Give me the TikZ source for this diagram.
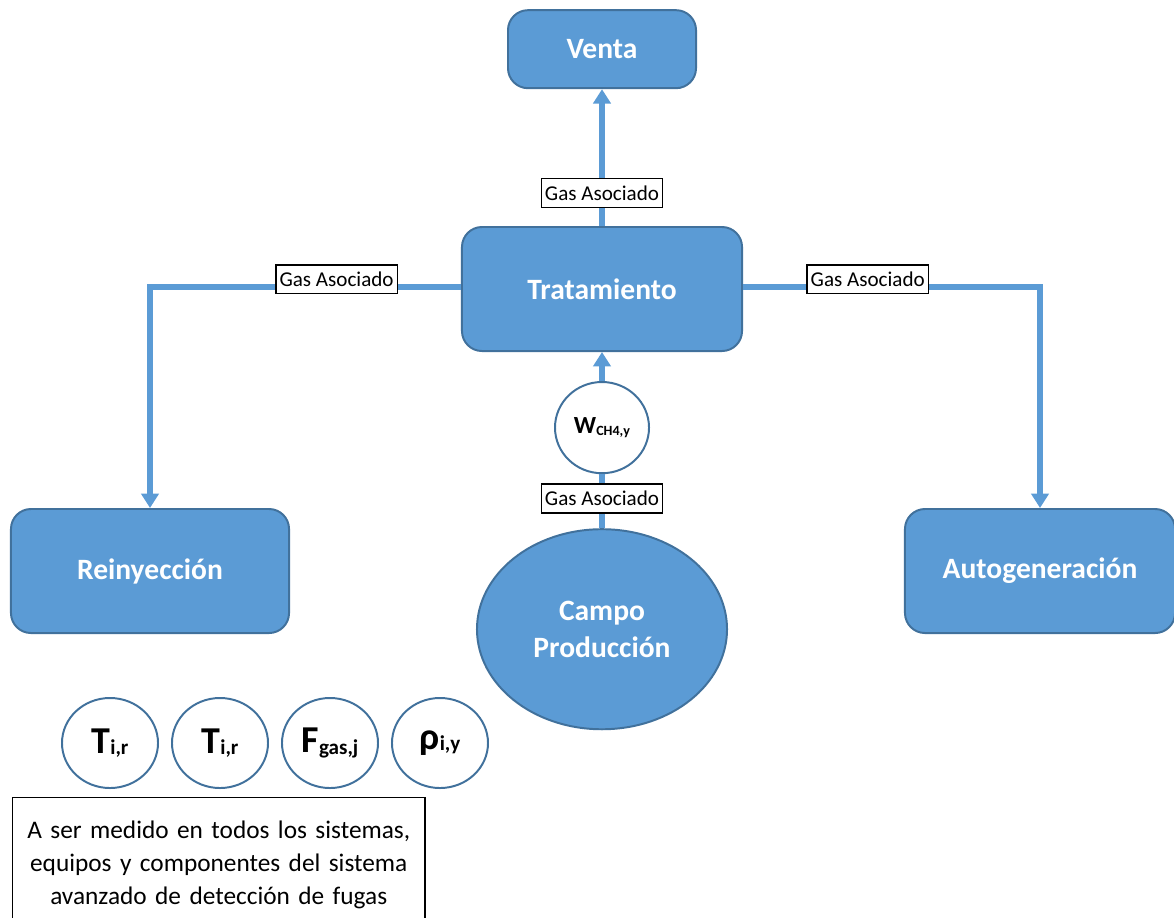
\documentclass[tikz,border=0pt]{standalone}
\usepackage{fontspec}
\setmainfont{Carlito}
\usepackage{xcolor}
\usetikzlibrary{positioning,shapes.geometric,arrows.meta}

\definecolor{boxblue}{HTML}{5B9BD5}
\definecolor{rimblue}{HTML}{41719C}

\newcommand{\meas}[2]{{\fontsize{27}{27}\selectfont #1}\raisebox{-1pt}{\fontsize{15}{15}\selectfont #2}}

\begin{document}
\begin{tikzpicture}[x=0.025cm,y=-0.025cm,>={Triangle[width=0.43cm,length=0.36cm]},
                    every node/.style={inner sep=0pt}]
  \tikzstyle{block}=[rectangle,rounded corners=0.5cm,fill=boxblue,draw=rimblue,line width=1.4pt,
                     text=white,font=\bfseries\fontsize{21}{26}\selectfont,align=center,
                     minimum height=3.1cm]
  \tikzstyle{meter}=[ellipse,fill=white,draw=rimblue,line width=1.4pt,font=\bfseries,
                     minimum width=2.4cm,minimum height=2.25cm]
  \tikzstyle{flow}=[->,draw=boxblue,line width=4pt]
  \tikzstyle{tag}=[fill=white,draw=black,line width=0.9pt,inner xsep=2.6pt,inner ysep=5pt,
                   text=black,font=\fontsize{15}{16}\selectfont]

  \useasboundingbox (0,0) rectangle (1174,917);
  \clip (0,0) rectangle (1174,917);

  \node[block,minimum width=7cm]                      (trat)  at (602,289)  {Tratamiento};
  \node[block,minimum width=4.7cm,minimum height=1.95cm] (venta) [above=3.42cm of trat] {Venta};
  \node[meter,minimum width=2.35cm,minimum height=2.28cm] (wch4) [below=0.725cm of trat]
        {{\fontsize{17.5}{17}\selectfont W}\raisebox{-2pt}{\fontsize{10}{10}\selectfont CH4,y}};
  \node[ellipse,fill=boxblue,draw=rimblue,line width=1.4pt,text=white,align=center,
        font=\bfseries\fontsize{21}{26}\selectfont,minimum width=6.25cm,minimum height=5cm]
        (campo) [below=1.35cm of wch4] {Campo\\Producción};
  \node[block,minimum width=6.95cm]                   (rein)  at (150,571)  {Reinyección};
  \node[block,minimum width=6.75cm]                   (auto)  at (1040,571) {Autogeneración};

  \node[meter]             (temp1)                   at (110,743) {\meas{T}{i,r}};
  \node[meter]             (temp2) [right=0.3cm of temp1]       {\meas{T}{i,r}};
  \node[meter]             (flowg) [right=0.3cm of temp2]       {\meas{F}{gas,j}};
  \node[meter]             (dens)  [right=0.3cm of flowg]       {\meas{ρ}{i,y}};

  \node[draw=black,line width=1pt,anchor=north west,text width=10.3cm,minimum height=3.35cm,
        align=center,font=\fontsize{18}{23.5}\selectfont]
        (note) at (12,797) {A ser medido en todos los sistemas,\\equipos y componentes del sistema\\avanzado de detección de fugas};

  \draw[flow] (trat) -- node[tag,pos=0.24] {Gas Asociado} (venta);
  \draw[flow] ([yshift=1.4pt]trat.west) -| node[tag,pos=0.2,yshift=5.5pt] {Gas Asociado} (rein.north);
  \draw[flow] ([yshift=1.4pt]trat.east) -| node[tag,pos=0.21,yshift=5.5pt] {Gas Asociado} (auto.north);
  \draw[flow,-] (campo) -- node[tag,pos=0.55] {Gas Asociado} (wch4);
  \draw[flow] (wch4) -- (trat);
\end{tikzpicture}
\end{document}
